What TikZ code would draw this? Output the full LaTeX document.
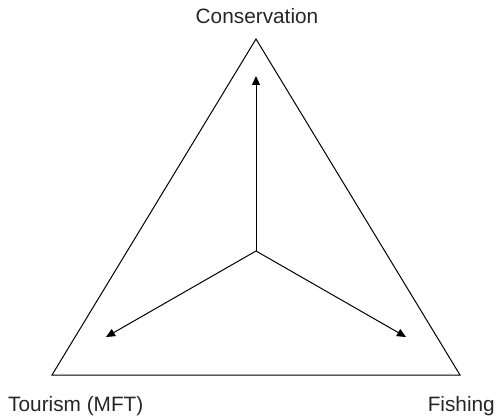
\documentclass[tikz,border=0pt]{standalone}
\usepackage{fontspec}
\setmainfont{Liberation Sans}
\usetikzlibrary{arrows.meta}
\begin{document}
\begin{tikzpicture}[x=1pt,y=-1pt,
  edge/.style={line width=1pt,black},
  arr/.style={line width=1pt,black,-{Triangle[length=9pt,width=8pt]}},
  lbl/.style={font=\fontsize{20.8}{24}\selectfont,text=black!85,inner sep=0pt}]
\useasboundingbox (0,0) rectangle (497,417);
\coordinate (A) at (256,39);
\coordinate (B) at (52,375);
\coordinate (C) at (460,375);
\coordinate (O) at (256,251);
\coordinate (tA) at (256,76);
\coordinate (tB) at (106,337);
\coordinate (tC) at (406,337);
\draw[edge,line join=miter] (A) -- (B) -- (C) -- cycle;
\draw[arr] (O) -- (tA);
\draw[arr] (O) -- (tB);
\draw[arr] (O) -- (tC);
\node[lbl,anchor=base] (cons) at (257,24) {Conservation};
\node[lbl,anchor=base west] (tour) at (8,411) {Tourism (MFT)};
\node[lbl,anchor=base east] (fish) at (495,411) {Fishing};
\end{tikzpicture}
\end{document}
